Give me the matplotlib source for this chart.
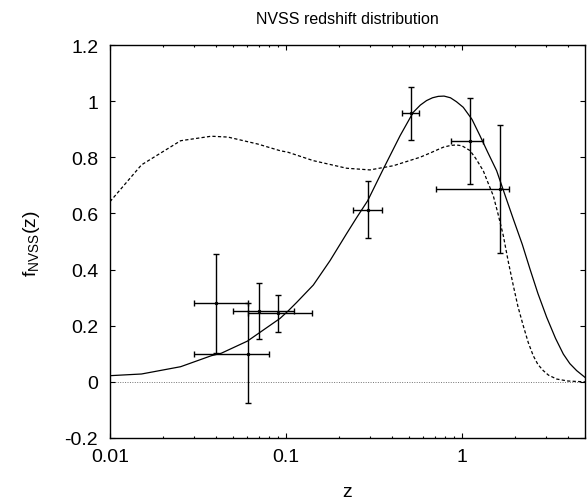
import matplotlib
matplotlib.use("Agg")
import matplotlib.pyplot as plt
from matplotlib.ticker import FixedLocator, FixedFormatter, LogLocator, NullFormatter

plt.rcParams['font.family'] = ['Liberation Sans', 'DejaVu Sans']
plt.rcParams['mathtext.fontset'] = 'custom'
plt.rcParams['mathtext.rm'] = 'Liberation Sans'
plt.rcParams['axes.unicode_minus'] = False

# ---- data ----
# solid model curve
solid_z = [0.010, 0.0151, 0.0252, 0.0376, 0.0429, 0.0603, 0.0925, 0.1026, 0.115,
           0.143, 0.178, 0.221, 0.252, 0.291, 0.357, 0.445, 0.528, 0.580, 0.629,
           0.68, 0.733, 0.791, 0.86, 0.93, 1.017, 1.14, 1.265, 1.40, 1.574, 1.75,
           1.957, 2.20, 2.434, 2.70, 3.029, 3.40, 3.765, 4.10, 4.484, 5.0]
solid_f = [0.022, 0.028, 0.054, 0.093, 0.102, 0.145, 0.226, 0.252, 0.283,
           0.345, 0.432, 0.528, 0.585, 0.645, 0.758, 0.877, 0.960, 0.986, 1.002,
           1.012, 1.017, 1.018, 1.012, 0.998, 0.978, 0.935, 0.877, 0.818, 0.752,
           0.668, 0.580, 0.490, 0.402, 0.315, 0.230, 0.155, 0.099, 0.065, 0.040, 0.016]
# dashed model curve
dash_z = [0.010, 0.0151, 0.0252, 0.0376, 0.0468, 0.0693, 0.0925, 0.1026, 0.143,
          0.221, 0.300, 0.408, 0.577, 0.658, 0.745, 0.784, 0.86, 0.925, 1.0,
          1.110, 1.20, 1.321, 1.40, 1.506, 1.60, 1.717, 1.83, 1.957, 2.08, 2.229,
          2.38, 2.541, 2.70, 2.897, 3.10, 3.452, 4.0, 5.0]
dash_f = [0.642, 0.773, 0.859, 0.875, 0.872, 0.847, 0.8235, 0.818, 0.788,
          0.761, 0.755, 0.770, 0.800, 0.815, 0.830, 0.836, 0.842, 0.844, 0.841,
          0.824, 0.795, 0.752, 0.712, 0.663, 0.600, 0.521, 0.430, 0.343, 0.268, 0.200,
          0.140, 0.093, 0.062, 0.040, 0.024, 0.010, 0.003, 0.0]
# data points with error boxes
pts_z = [0.0402, 0.0605, 0.0702, 0.0904, 0.291, 0.513, 1.114, 1.637]
pts_f = [0.282, 0.100, 0.252, 0.244, 0.613, 0.957, 0.857, 0.688]
z_lo = [0.0301, 0.0301, 0.0502, 0.0605, 0.2413, 0.454, 0.866, 0.714]
z_hi = [0.0606, 0.080, 0.1106, 0.141, 0.352, 0.571, 1.321, 1.85]
f_lo = [0.104, -0.075, 0.153, 0.177, 0.5125, 0.862, 0.704, 0.46]
f_hi = [0.455, 0.282, 0.351, 0.31, 0.7145, 1.049, 1.011, 0.915]

x_ticks = [0.01, 0.1, 1]
x_ticklabels = ['0.01', '0.1', '1']
y_ticks = [-0.2, 0, 0.2, 0.4, 0.6, 0.8, 1.0, 1.2]
y_ticklabels = ['-0.2', '0', '0.2', '0.4', '0.6', '0.8', '1', '1.2']

W, H = 587, 502
fig = plt.figure(figsize=(W / 100, H / 100), dpi=100)
ax = fig.add_axes([110 / W, 1 - 439 / H, 475 / W, 393 / H])

ax.axhline(0, color='0.45', lw=0.7, ls=(0, (1, 1.5)), zorder=1)
ax.plot(solid_z, solid_f, color='black', lw=0.9, zorder=3)
ax.plot(dash_z, dash_f, color='black', lw=0.9, ls=(0, (2.6, 1.8)), zorder=3)

xerr = [[p - l for p, l in zip(pts_z, z_lo)], [h - p for p, h in zip(pts_z, z_hi)]]
yerr = [[p - l for p, l in zip(pts_f, f_lo)], [h - p for p, h in zip(pts_f, f_hi)]]
ax.errorbar(pts_z, pts_f, xerr=xerr, yerr=yerr, fmt='none', ecolor='black',
            elinewidth=1.0, capsize=2.5, capthick=1.0, zorder=4)
ax.plot(pts_z, pts_f, ls='none', marker='o', ms=1.5, color='black', zorder=5)

ax.set_xscale('log')
ax.set_xlim(0.01, 5)
ax.set_ylim(-0.2, 1.2)
ax.xaxis.set_major_locator(FixedLocator(x_ticks))
ax.xaxis.set_major_formatter(FixedFormatter(x_ticklabels))
ax.xaxis.set_minor_locator(LogLocator(base=10, subs=[2, 3, 4, 5, 6, 7, 8, 9]))
ax.xaxis.set_minor_formatter(NullFormatter())
ax.yaxis.set_major_locator(FixedLocator(y_ticks))
ax.yaxis.set_major_formatter(FixedFormatter(y_ticklabels))

ax.tick_params(which='both', direction='in', top=True, right=True, width=0.8,
               labelsize=14)
ax.tick_params(which='major', length=3.3)
ax.tick_params(which='minor', length=1.7)
ax.tick_params(axis='x', pad=7)
ax.tick_params(axis='y', pad=8.5)
for s in ax.spines.values():
    s.set_linewidth(1.0)

fig.text(347.5 / W, 1 - 20 / H, 'NVSS redshift distribution', ha='center',
         va='center', fontsize=11.5)
fig.text(347.5 / W, 1 - 497 / H, 'z', ha='center', va='baseline', fontsize=14)
fig.text(31 / W, 1 - 244 / H, r'f$_{\mathregular{NVSS}}$(z)', ha='center',
         va='center', rotation=90, fontsize=14)

fig.savefig('out.png', dpi=100)
